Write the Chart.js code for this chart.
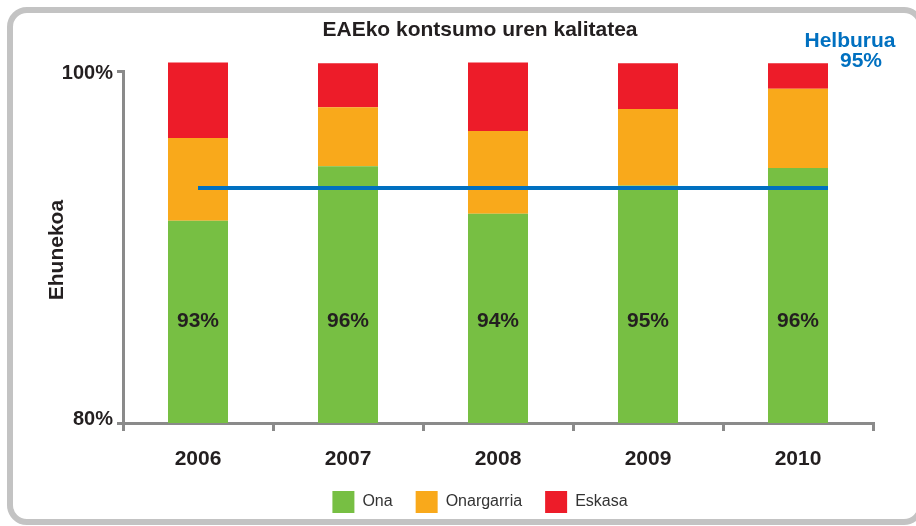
<!DOCTYPE html>
<html>
<head>
<meta charset="utf-8">
<script src="https://cdn.jsdelivr.net/npm/chart.js@4.4.1/dist/chart.umd.min.js"></script>
<style>
  html, body { margin: 0; padding: 0; background: #fff; overflow: hidden; }
  #wrap { position: relative; width: 916px; height: 526px; overflow: hidden; }
  #frame { position: absolute; left: 7px; top: 7px; width: 905px; height: 506px; border: 6px solid #c3c3c3; border-radius: 20px; }
  #myChart { position: absolute; left: 0; top: 0; }
</style>
</head>
<body>
<div id="wrap">
  <div id="frame"></div>
  <canvas id="myChart" width="916" height="526"></canvas>
</div>
<script>
const years = ['2006', '2007', '2008', '2009', '2010'];
const ona = [91.5, 94.6, 91.9, 93.5, 94.5];
const onargarria = [4.7, 3.35, 4.7, 4.35, 4.5];
const eskasa = [4.3, 2.5, 3.9, 2.6, 1.45];
const onaLabels = ['93%', '96%', '94%', '95%', '96%'];
const yTicks = [80, 100];
const helburua = 93.35;          // where the target line sits in the picture
const helburuaLabel = '95%';

const green = '#77bf43';
const orange = '#f9a91b';
const red = '#ed1c29';
const gray = '#8a8a8a';
const dark = '#231f20';
const blue = '#0070c0';
const boldFont = 'bold 21px Arial, "Liberation Sans", sans-serif';

Chart.defaults.font.family = 'Arial, "Liberation Sans", sans-serif';

// target line, labels inside the green bars, y labels + title, target text
const extras = {
  id: 'extras',
  afterDatasetsDraw(chart) {
    const { ctx, chartArea, scales: { x, y } } = chart;
    ctx.save();
    const ty = Math.round(y.getPixelForValue(helburua));
    ctx.strokeStyle = blue;
    ctx.lineWidth = 4;
    ctx.beginPath();
    ctx.moveTo(x.getPixelForValue(0), ty);
    ctx.lineTo(x.getPixelForValue(4.2), ty);
    ctx.stroke();

    ctx.font = boldFont;
    ctx.textAlign = 'center';
    ctx.textBaseline = 'middle';
    ctx.fillStyle = dark;
    onaLabels.forEach((t, i) => {
      ctx.fillText(t, x.getPixelForValue(i), y.getPixelForValue(85.8));
    });

    ctx.fillStyle = blue;
    ctx.fillText('Helburua', chartArea.right - 23, 41);
    ctx.fillText(helburuaLabel, chartArea.right - 12, 61);

    // y tick labels (the scale would clip them to its narrow box)
    ctx.fillStyle = dark;
    ctx.font = 'bold 20px Arial, "Liberation Sans", sans-serif';
    ctx.textAlign = 'right';
    yTicks.forEach(v => {
      const off = v === 100 ? 2 : -4;
      ctx.fillText(v + '%', chartArea.left - 10, y.getPixelForValue(v) + off);
    });

    ctx.font = boldFont;
    ctx.textAlign = 'center';
    ctx.translate(57, (chartArea.top + chartArea.bottom) / 2 + 3);
    ctx.rotate(-Math.PI / 2);
    ctx.fillText('Ehunekoa', 0, 0);
    ctx.restore();
  }
};

const barClip = { left: false, top: false, right: false, bottom: 0 };

new Chart(document.getElementById('myChart'), {
  type: 'bar',
  data: {
    labels: years,
    datasets: [
      { label: 'Ona', data: ona, backgroundColor: green, clip: barClip },
      { label: 'Onargarria', data: onargarria, backgroundColor: orange, clip: barClip },
      { label: 'Eskasa', data: eskasa, backgroundColor: red, clip: barClip }
    ]
  },
  options: {
    responsive: false,
    animation: false,
    categoryPercentage: 1,
    barPercentage: 0.4,
    layout: { padding: { left: 87, right: 43, top: 0, bottom: 3 } },
    plugins: {
      title: {
        display: true,
        text: 'EAEko kontsumo uren kalitatea',
        color: dark,
        font: { size: 21, weight: 'bold' },
        padding: { top: 18, bottom: 28 }
      },
      legend: {
        position: 'bottom',
        labels: { boxWidth: 22, boxHeight: 22, padding: 23, color: '#333', font: { size: 16 } }
      },
      tooltip: { enabled: false }
    },
    scales: {
      x: {
        stacked: true,
        grid: { drawOnChartArea: false, tickLength: 8, lineWidth: 3, color: gray, offset: true },
        border: { color: gray, width: 3 },
        ticks: { color: dark, font: { size: 21, weight: 'bold' }, padding: 16 },
        afterFit: s => { s.height = 45; }
      },
      y: {
        stacked: true,
        min: 80,
        max: 100,
        afterBuildTicks: s => { s.ticks = yTicks.map(v => ({ value: v })); },
        afterFit: s => { s.width = 36; },
        grid: { drawOnChartArea: false, tickLength: 6, lineWidth: 3, color: gray },
        border: { color: gray, width: 3 },
        ticks: { display: false }
      }
    }
  },
  plugins: [extras]
});
</script>
</body>
</html>
